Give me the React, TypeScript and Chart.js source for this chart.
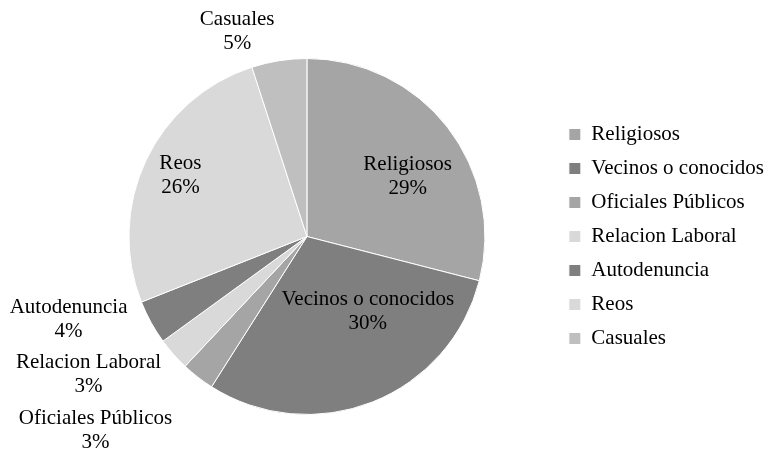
import React, { useEffect, useRef } from "react";
import { Chart, registerables } from "chart.js";

Chart.register(...registerables);

const categories = [
  "Religiosos",
  "Vecinos o conocidos",
  "Oficiales Públicos",
  "Relacion Laboral",
  "Autodenuncia",
  "Reos",
  "Casuales",
];
const values = [29, 30, 3, 3, 4, 26, 5];
const colors = ["#a5a5a5", "#7f7f7f", "#a5a5a5", "#d9d9d9", "#7f7f7f", "#d9d9d9", "#bfbfbf"];

// label placement, in units of pie radius from the pie centre
const labelOffsets: [number, number][] = [
  [0.566, -0.336],
  [0.342, 0.42],
  [-1.188, 1.092],
  [-1.227, 0.773],
  [-1.339, 0.465],
  [-0.711, -0.342],
  [-0.392, -1.154],
];

const FONT = '"Liberation Serif", "Times New Roman", serif';

const labelPlugin = {
  id: "pieLabels",
  afterDatasetsDraw(chart: any) {
    const ctx = chart.ctx;
    const meta = chart.getDatasetMeta(0);
    const data = chart.data.datasets[0].data as number[];
    const total = data.reduce((a, b) => a + b, 0);
    ctx.save();
    ctx.font = `21px ${FONT}`;
    ctx.fillStyle = "#000";
    ctx.textAlign = "center";
    ctx.textBaseline = "middle";
    meta.data.forEach((arc: any, i: number) => {
      const { x, y, outerRadius } = arc.getProps(["x", "y", "outerRadius"], true);
      const [ox, oy] = labelOffsets[i];
      const cx = x + ox * outerRadius;
      const cy = y + oy * outerRadius;
      const pct = Math.round((data[i] / total) * 100) + "%";
      ctx.fillText(chart.data.labels[i], cx, cy - 12);
      ctx.fillText(pct, cx, cy + 12);
    });
    ctx.restore();
  },
};

export default function App() {
  const ref = useRef<HTMLCanvasElement>(null);
  useEffect(() => {
    const chart = new Chart(ref.current!, {
      type: "pie",
      data: {
        labels: categories,
        datasets: [
          {
            data: values,
            backgroundColor: colors,
            borderColor: "#ffffff",
            borderWidth: 1,
          },
        ],
      },
      options: {
        animation: false,
        responsive: true,
        maintainAspectRatio: false,
        layout: { padding: { top: 58, bottom: 38, left: 58, right: -6 } },
        plugins: {
          tooltip: { enabled: false },
          legend: {
            position: "right",
            labels: {
              boxWidth: 12,
              boxHeight: 12,
              padding: 13,
              color: "#000",
              font: { family: FONT, size: 21 },
            },
          },
        },
      },
      plugins: [labelPlugin],
    });
    return () => chart.destroy();
  }, []);
  return (
    <div style={{ position: "fixed", left: 0, top: 0, width: 768, height: 453, background: "#fff" }}>
      <canvas ref={ref} />
    </div>
  );
}
